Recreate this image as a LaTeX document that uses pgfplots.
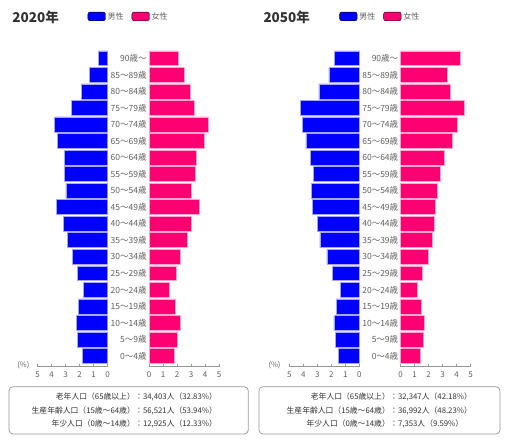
\documentclass[border=0pt]{standalone}
\usepackage{fontspec}
\setmainfont{Noto Sans CJK JP}
\usepackage{pgfplots}
\usepackage{pgfplotstable}
\pgfplotsset{compat=1.18}
\definecolor{mblue}{RGB}{0,0,255}
\definecolor{fpink}{RGB}{255,0,115}
\definecolor{txtgray}{RGB}{95,95,95}
\definecolor{axgray}{RGB}{150,150,150}
\definecolor{darktxt}{RGB}{50,50,50}

% age index: 0 = 0-4 ... 18 = 90+
\pgfplotstableread{
age m f
0 1.81 1.79
1 2.17 2.05
2 2.26 2.24
3 2.12 1.86
4 1.74 1.43
5 2.17 1.93
6 2.53 2.24
7 2.86 2.71
8 3.19 3.02
9 3.67 3.60
10 2.98 3.02
11 3.07 3.33
12 3.10 3.38
13 3.60 3.93
14 3.79 4.26
15 2.57 3.24
16 1.88 2.93
17 1.33 2.52
18 0.67 2.09
}\popA

\pgfplotstableread{
age m f
0 1.48 1.40
1 1.69 1.60
2 1.81 1.69
3 1.64 1.48
4 1.36 1.19
5 1.90 1.55
6 2.31 1.95
7 2.81 2.26
8 2.98 2.43
9 3.33 2.45
10 3.45 2.60
11 3.26 2.83
12 3.52 3.12
13 3.81 3.69
14 4.05 4.02
15 4.21 4.55
16 2.88 3.55
17 2.17 3.31
18 1.79 4.26
}\popB

\pgfplotsset{
  pyr/.style={
    scale only axis, width=70pt, height=316.7pt,
    xmin=0, xmax=5, ymin=-0.65, ymax=18.5,
    xbar, bar width=0.9, bar shift=0pt,
    axis x line*=bottom,
    x axis line style={axgray, line width=0.7pt},
    xtick={0,1,2,3,4,5},
    tick align=inside, major tick length=2.5pt,
    x tick style={axgray, line width=0.6pt},
    xticklabel style={font=\fontsize{8}{8}\selectfont, text=txtgray, yshift=-1.5pt},
    /pgf/number format/assume math mode=true,
  },
  malepyr/.style={pyr, x dir=reverse, axis y line=none, ytick=\empty},
  femalepyr/.style={pyr,
    axis y line*=left, y axis line style={draw=none}, y tick style={draw=none},
    ytick={0,...,18},
    yticklabels={0〜4歳,5〜9歳,10〜14歳,15〜19歳,20〜24歳,25〜29歳,30〜34歳,35〜39歳,40〜44歳,45〜49歳,50〜54歳,55〜59歳,60〜64歳,65〜69歳,70〜74歳,75〜79歳,80〜84歳,85〜89歳,90歳〜},
    yticklabel style={anchor=east, inner sep=0pt, xshift=-2.3pt, font=\fontsize{8.5}{9}\selectfont, text=txtgray},
    legend image code/.code={\fill[#1, rounded corners=2.2pt] (0pt,-4.35pt) rectangle (17.6pt,4.35pt);},
    legend style={at={(axis description cs:-0.876,1.106)}, anchor=west, draw=none, fill=none,
      inner sep=0pt, outer sep=0pt, font=\fontsize{8}{9}\selectfont, text=txtgray,
      /tikz/every even column/.append style={column sep=6pt}},
    legend columns=2, legend cell align=left,
  },
}

\begin{document}
\begin{tikzpicture}
\useasboundingbox (0,0) rectangle (510pt,442pt);

% ---------- 2020 ----------
\begin{axis}[malepyr, at={(107.7pt,75.3pt)}, anchor=south east]
\addplot[fill=mblue, draw=mblue!35!white, line width=0.5pt] table[x=m, y=age]{\popA};
\end{axis}
\begin{axis}[femalepyr, at={(149pt,75.3pt)}, anchor=south west]
\addplot[fill=fpink, draw=fpink!35!white, line width=0.5pt, forget plot] table[x=f, y=age]{\popA};
\addlegendimage{fill=mblue}\addlegendentry{男性}
\addlegendimage{fill=fpink}\addlegendentry{女性}
\end{axis}

% ---------- 2050 ----------
\begin{axis}[malepyr, at={(359.3pt,75.3pt)}, anchor=south east]
\addplot[fill=mblue, draw=mblue!35!white, line width=0.5pt] table[x=m, y=age]{\popB};
\end{axis}
\begin{axis}[femalepyr, at={(400.7pt,75.3pt)}, anchor=south west]
\addplot[fill=fpink, draw=fpink!35!white, line width=0.5pt, forget plot] table[x=f, y=age]{\popB};
\addlegendimage{fill=mblue}\addlegendentry{男性}
\addlegendimage{fill=fpink}\addlegendentry{女性}
\end{axis}

% titles
\node[anchor=west, inner sep=0pt, text=darktxt, font=\fontsize{13.5}{14}\selectfont\bfseries] at (12.3pt,424.7pt) {2020年};
\node[anchor=west, inner sep=0pt, text=darktxt, font=\fontsize{13.5}{14}\selectfont\bfseries] at (263.3pt,424.7pt) {2050年};

% (%) labels
\node[inner sep=0pt, text=txtgray, font=\fontsize{7.5}{8}\selectfont] at (23.3pt,77pt) {(\%)};
\node[inner sep=0pt, text=txtgray, font=\fontsize{7.5}{8}\selectfont] at (274.5pt,77pt) {(\%)};

% summary boxes
\draw[axgray, line width=0.7pt, rounded corners=4pt] (9pt,8pt) rectangle (248.3pt,55.3pt);
\draw[axgray, line width=0.7pt, rounded corners=4pt] (259pt,8pt) rectangle (500pt,55.3pt);

\begin{scope}[every node/.style={inner sep=0pt, text=darktxt, font=\fontsize{7.8}{8}\selectfont}]
\node[anchor=east] at (135pt,45pt) {老年人口（65歳以上）};
\node[anchor=west] at (135pt,45pt) {：34,403人（32.83\%）};
\node[anchor=east] at (135pt,31.5pt) {生産年齢人口（15歳〜64歳）};
\node[anchor=west] at (135pt,31.5pt) {：56,521人（53.94\%）};
\node[anchor=east] at (135pt,18.5pt) {年少人口（0歳〜14歳）};
\node[anchor=west] at (135pt,18.5pt) {：12,925人（12.33\%）};

\node[anchor=east] at (390pt,45pt) {老年人口（65歳以上）};
\node[anchor=west] at (390pt,45pt) {：32,347人（42.18\%）};
\node[anchor=east] at (390pt,31.5pt) {生産年齢人口（15歳〜64歳）};
\node[anchor=west] at (390pt,31.5pt) {：36,992人（48.23\%）};
\node[anchor=east] at (390pt,18.5pt) {年少人口（0歳〜14歳）};
\node[anchor=west] at (390pt,18.5pt) {：7,353人（9.59\%）};
\end{scope}
\end{tikzpicture}
\end{document}
